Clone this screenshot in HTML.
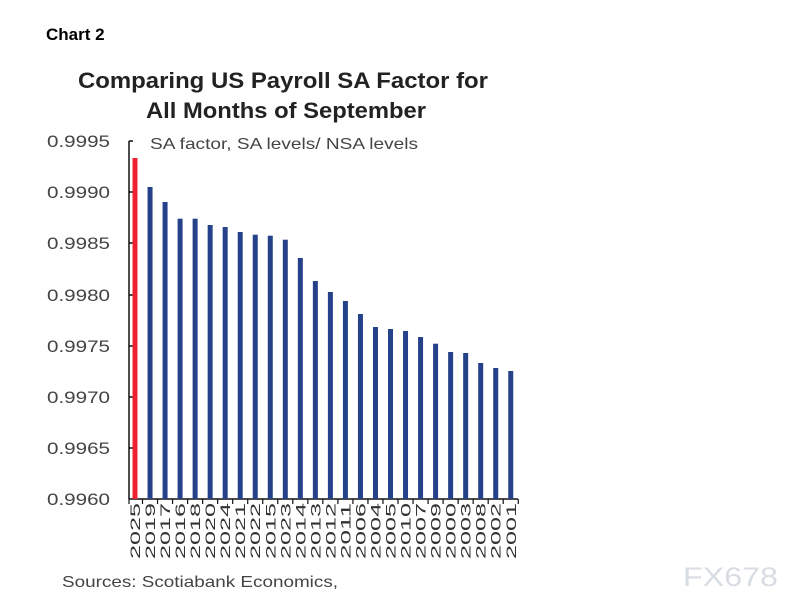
<!DOCTYPE html>
<html><head><meta charset="utf-8"><style>
body{margin:0;width:811px;height:610px;background:#fff;overflow:hidden;font-family:"Liberation Sans",sans-serif}
</style></head><body>
<svg width="811" height="610" xmlns="http://www.w3.org/2000/svg" font-family="Liberation Sans, sans-serif">
<rect width="811" height="610" fill="#fff"/>
<text x="46" y="40" font-size="17" font-weight="bold" fill="#000">Chart 2</text>
<text x="78" y="88" font-size="22" font-weight="bold" fill="#222" textLength="410" lengthAdjust="spacingAndGlyphs">Comparing US Payroll SA Factor for</text>
<text x="146" y="118" font-size="22" font-weight="bold" fill="#222" textLength="280" lengthAdjust="spacingAndGlyphs">All Months of September</text>
<text x="150" y="149" font-size="16" fill="#444" textLength="268" lengthAdjust="spacingAndGlyphs">SA factor, SA levels/ NSA levels</text>
<g font-size="17" fill="#444" lengthAdjust="spacingAndGlyphs">
<text x="47" y="147" textLength="63" lengthAdjust="spacingAndGlyphs">0.9995</text><text x="47" y="198" textLength="63" lengthAdjust="spacingAndGlyphs">0.9990</text><text x="47" y="249" textLength="63" lengthAdjust="spacingAndGlyphs">0.9985</text><text x="47" y="301" textLength="63" lengthAdjust="spacingAndGlyphs">0.9980</text><text x="47" y="352" textLength="63" lengthAdjust="spacingAndGlyphs">0.9975</text><text x="47" y="403" textLength="63" lengthAdjust="spacingAndGlyphs">0.9970</text><text x="47" y="454" textLength="63" lengthAdjust="spacingAndGlyphs">0.9965</text><text x="47" y="505" textLength="63" lengthAdjust="spacingAndGlyphs">0.9960</text>
</g>
<g stroke="#111" stroke-width="1.5">
<line x1="129" y1="141" x2="129" y2="499"/>
<line x1="129" y1="141" x2="133" y2="141"/><line x1="129" y1="192" x2="133" y2="192"/><line x1="129" y1="243" x2="133" y2="243"/><line x1="129" y1="295" x2="133" y2="295"/><line x1="129" y1="346" x2="133" y2="346"/><line x1="129" y1="397" x2="133" y2="397"/><line x1="129" y1="448" x2="133" y2="448"/>
<line x1="129" y1="499" x2="518" y2="499"/>
</g>
<g id="bars"></g>
<g id="ticks" stroke="#111" stroke-width="1.2"></g>
<g id="labels" font-size="14" fill="#333"></g>
<text x="62" y="587" font-size="16" fill="#444" textLength="276" lengthAdjust="spacingAndGlyphs">Sources: Scotiabank Economics,</text>
<text x="683" y="586" font-size="27" fill="#d8dde3" textLength="95" lengthAdjust="spacingAndGlyphs">FX678</text>
<script>
var tops=[158,187,202,218.7,218.7,225,227,232,234.7,235.7,239.7,258,281,292,301,314,327,329,331,337,343.7,352,353,363,368,371];
var yrs=["2025","2019","2017","2016","2018","2020","2024","2021","2022","2015","2023","2014","2013","2012","2011","2006","2004","2005","2010","2007","2009","2000","2003","2008","2002","2001"];
var ns="http://www.w3.org/2000/svg",b=document.getElementById("bars"),t=document.getElementById("ticks"),l=document.getElementById("labels");
for(var i=0;i<26;i++){var x=135+i*15.03;
var r=document.createElementNS(ns,"rect");r.setAttribute("x",x-2.5);r.setAttribute("y",tops[i]);r.setAttribute("width",5);r.setAttribute("height",499-tops[i]);r.setAttribute("fill",i==0?"#ee2233":"#24418a");b.appendChild(r);
var k=document.createElementNS(ns,"line");k.setAttribute("x1",x+7.5);k.setAttribute("x2",x+7.5);k.setAttribute("y1",499);k.setAttribute("y2",504);t.appendChild(k);
var s=document.createElementNS(ns,"text");s.setAttribute("transform","translate("+(x+5)+",503) rotate(-90)");s.setAttribute("text-anchor","end");s.setAttribute("textLength","56");s.setAttribute("lengthAdjust","spacingAndGlyphs");s.textContent=yrs[i];l.appendChild(s);}
var k0=document.createElementNS(ns,"line");k0.setAttribute("x1",129);k0.setAttribute("x2",129);k0.setAttribute("y1",499);k0.setAttribute("y2",504);t.appendChild(k0);
</script>
</svg>
</body></html>
